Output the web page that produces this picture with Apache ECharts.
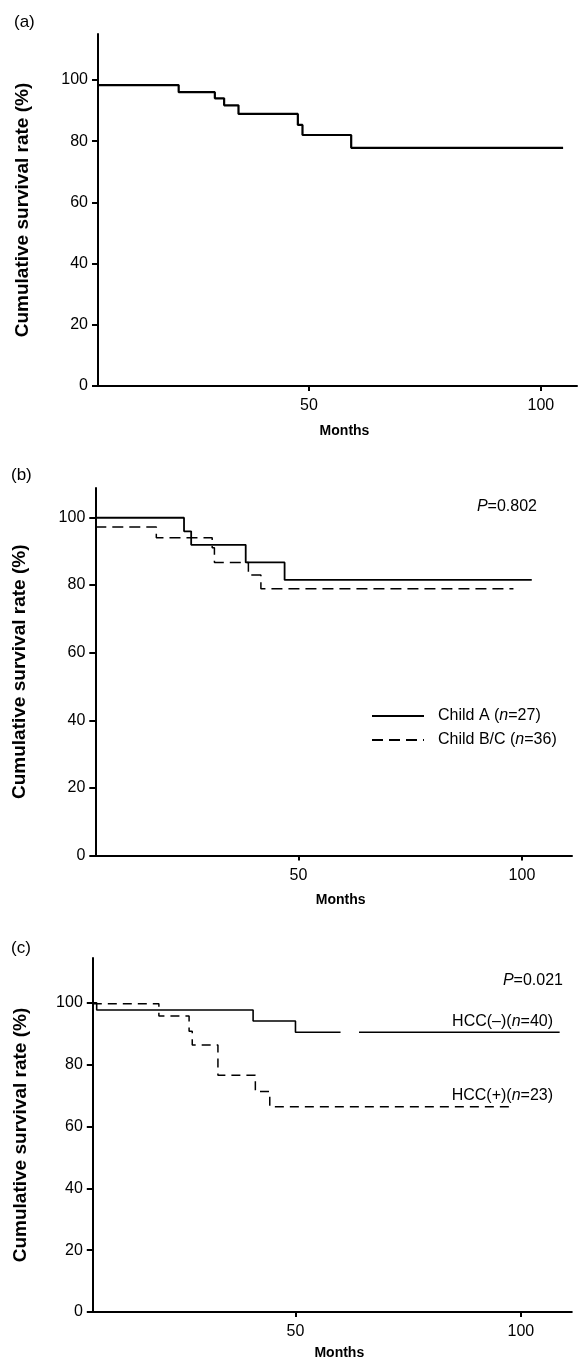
<!DOCTYPE html>
<html>
<head>
<meta charset="utf-8">
<script src="https://cdn.jsdelivr.net/npm/echarts@6/dist/echarts.min.js"></script>
<style>
  html, body { margin: 0; padding: 0; background: #fff; }
  #chart { width: 579px; height: 1361px; }
</style>
</head>
<body>
<div id="chart"></div>
<script>
// (a) all patients
const monthsA = [4.5, 21.9, 29.7, 31.7, 34.8, 47.6, 48.6, 59.1, 104.8];
const survA   = [98.3, 96.0, 94.0, 91.7, 88.9, 85.3, 82.0, 77.8, 77.8];
// (b) Child A vs Child B/C
const monthsChildA  = [4.55, 24.4, 26.0, 38.2, 46.9, 102.2];
const survChildA    = [99.9, 95.9, 91.9, 86.7, 81.5, 81.5];
const monthsChildBC = [4.55, 18.2, 30.7, 31.2, 38.8, 41.6, 98.1];
const survChildBC   = [97.2, 94.0, 91.0, 86.7, 83.0, 78.9, 78.9];
// (c) HCC(-) vs HCC(+) -- the HCC(-) line has a gap as printed
const monthsHccNeg = [5.04, 5.9, 40.6, 50.0, 56.1, 60.0, 64.1, 108.6];
const survHccNeg   = [100, 97.7, 94.1, 90.5, 90.5, null, 90.5, 90.5];
const monthsHccPos = [5.04, 19.7, 26.4, 27.1, 32.8, 41.1, 44.3, 97.9];
const survHccPos   = [99.7, 95.7, 90.8, 86.4, 76.6, 71.3, 66.4, 66.4];

const yTicks = [0, 20, 40, 60, 80, 100];
const xTicks = [50, 100];

const FONT = "'Liberation Sans', Arial, Helvetica, sans-serif";

function pairs(xs, ys) {
    return xs.map((x, i) => [x, ys[i] === null ? '-' : ys[i]]);
}

function xAxisFor(idx, min, max, gap) {
    return {
        type: 'value', gridIndex: idx, min: min, max: max,
        name: 'Months', nameLocation: 'middle', nameGap: gap,
        nameTextStyle: { fontFamily: FONT, fontSize: 14, fontWeight: 'bold', color: '#000', padding: [0, 0, 0, 14] },
        axisLine: { lineStyle: { color: '#000', width: 2 } },
        axisTick: { show: true, length: 5, lineStyle: { width: 2, color: '#000' }, customValues: xTicks },
        axisLabel: { fontFamily: FONT, fontSize: 16, color: '#000', margin: 12, customValues: xTicks },
        splitLine: { show: false }
    };
}

function yAxisFor(idx, max, gap) {
    return {
        type: 'value', gridIndex: idx, min: 0, max: max,
        name: 'Cumulative survival rate (%)', nameLocation: 'middle', nameGap: gap,
        nameTextStyle: { fontFamily: FONT, fontSize: 19, fontWeight: 'bold', color: '#000' },
        axisLine: { lineStyle: { color: '#000', width: 2 } },
        axisTick: { show: true, length: 6, lineStyle: { width: 2, color: '#000' }, customValues: yTicks },
        axisLabel: { fontFamily: FONT, fontSize: 16, color: '#000', margin: 10, customValues: yTicks },
        splitLine: { show: false }
    };
}

function stepLine(name, idx, data, width, dash) {
    return {
        name: name, type: 'line', step: 'end', xAxisIndex: idx, yAxisIndex: idx,
        data: data, symbol: 'none', connectNulls: false, silent: true,
        itemStyle: { color: '#000' },
        lineStyle: { color: '#000', width: width, type: dash || 'solid' }
    };
}

function label(text, pos, size) {
    const fs = size || 16;
    return Object.assign({
        text: text, padding: 0,
        textStyle: {
            fontFamily: FONT, fontSize: fs, fontWeight: 'normal', color: '#000',
            rich: { i: { fontFamily: FONT, fontSize: fs, fontStyle: 'italic', color: '#000' } }
        }
    }, pos);
}

const chart = echarts.init(document.getElementById('chart'));
chart.setOption({
    backgroundColor: '#fff',
    animation: false,
    grid: [
        { left: 98, top: 34, width: 479, height: 352 },
        { left: 95.3, top: 488, width: 476.7, height: 367.5 },
        { left: 92.8, top: 958, width: 479, height: 354.5 }
    ],
    xAxis: [
        xAxisFor(0, 4.5, 107.8, 38),
        xAxisFor(1, 4.55, 111.2, 38),
        xAxisFor(2, 5.04, 111.3, 34)
    ],
    yAxis: [
        yAxisFor(0, 115, 66),
        yAxisFor(1, 108.7, 66),
        yAxisFor(2, 114.5, 63)
    ],
    title: [
        label('(a)', { left: 14, top: 14 }, 17),
        label('(b)', { left: 11, top: 467 }, 17),
        label('(c)', { left: 11, top: 940 }, 17),
        label('{i|P}=0.802', { right: 42, top: 499 }),
        label('{i|P}=0.021', { right: 16, top: 973 }),
        label('HCC(–)({i|n}=40)', { right: 26, top: 1014 }),
        label('HCC(+)({i|n}=23)', { right: 26, top: 1088 })
    ],
    legend: {
        data: ['Child A', 'Child B/C'],
        orient: 'vertical', left: 371, top: 708, padding: 0,
        itemWidth: 52, itemHeight: 14, itemGap: 8,
        selectedMode: false,
        itemStyle: { opacity: 0 },
        formatter: function (n) {
            return n === 'Child A' ? 'Child A ({i|n}=27)' : 'Child B/C ({i|n}=36)';
        },
        textStyle: {
            fontFamily: FONT, fontSize: 16, color: '#000', padding: [0, 0, 0, 9],
            rich: { i: { fontFamily: FONT, fontSize: 16, fontStyle: 'italic', color: '#000' } }
        }
    },
    series: [
        stepLine('All', 0, pairs(monthsA, survA), 2.2),
        stepLine('Child A', 1, pairs(monthsChildA, survChildA), 1.8),
        stepLine('Child B/C', 1, pairs(monthsChildBC, survChildBC), 1.5, [11, 6]),
        stepLine('HCC(-)', 2, pairs(monthsHccNeg, survHccNeg), 1.6),
        stepLine('HCC(+)', 2, pairs(monthsHccPos, survHccPos), 1.5, [9, 6])
    ]
});
</script>
</body>
</html>
